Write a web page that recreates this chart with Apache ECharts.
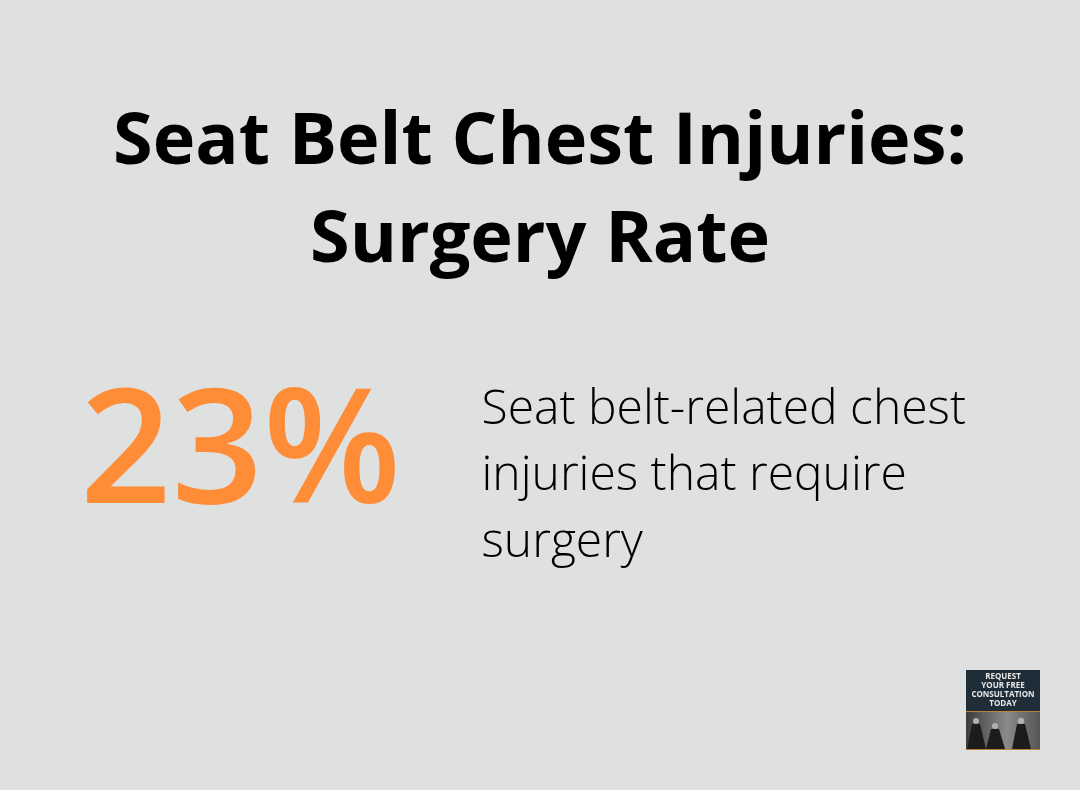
<!DOCTYPE html>
<html>
<head>
<meta charset="utf-8">
<style>html,body{margin:0;padding:0;background:#dfe1e0}#chart{width:1080px;height:790px}</style>
<script src="https://cdn.jsdelivr.net/npm/echarts@6/dist/echarts.min.js"></script>
</head>
<body>
<div id="chart"></div>
<script>
const titleLines = ['Seat Belt Chest Injuries:', 'Surgery Rate'];
const statValue = ['23%'];
const statLines = ['Seat belt-related chest', 'injuries that require', 'surgery'];
const badgeLines = ['REQUEST', 'YOUR FREE', 'CONSULTATION', 'TODAY'];

const font = '"Open Sans"';
const chart = echarts.init(document.getElementById('chart'), null, {renderer: 'canvas'});

const elements = [];
titleLines.forEach((t, i) => {
  elements.push({type: 'text', x: 540, y: 143 + i * 98.5, style: {text: t, font: `700 72px ${font}`, fill: '#000', align: 'center', verticalAlign: 'middle'}});
});
elements.push({type: 'text', x: 80, y: 457, style: {text: statValue[0], font: `600 160px ${font}`, fill: '#ff8c37', align: 'left', verticalAlign: 'middle'}});
statLines.forEach((t, i) => {
  elements.push({type: 'text', x: 481.5, y: 410 + i * 66.5, style: {text: t, font: `300 48px ${font}`, fill: '#000', align: 'left', verticalAlign: 'middle'}});
});

// badge in the corner
elements.push({type: 'rect', shape: {x: 966, y: 670, width: 74, height: 41}, style: {fill: '#1f2d38'}});
elements.push({type: 'rect', shape: {x: 966, y: 712, width: 74, height: 38}, style: {
  fill: new echarts.graphic.LinearGradient(0, 0, 1, 0, [
    {offset: 0, color: '#3c3c3c'}, {offset: 0.55, color: '#8a8a8a'}, {offset: 1, color: '#555'}
  ])
}});
elements.push({type: 'rect', shape: {x: 966, y: 711, width: 74, height: 1}, style: {fill: '#c0813a'}});
elements.push({type: 'rect', shape: {x: 966, y: 749, width: 74, height: 1}, style: {fill: '#c0813a'}});
badgeLines.forEach((t, i) => {
  elements.push({type: 'text', x: 1003, y: 677 + i * 9, style: {text: t, font: `700 8px ${font}`, fill: '#e8e8e8', align: 'center', verticalAlign: 'middle'}});
});
// the three people
[[976, 721, 3], [995, 726, 3], [1021, 721, 3.2]].forEach(p => {
  elements.push({type: 'circle', shape: {cx: p[0], cy: p[1], r: p[2]}, style: {fill: '#b5aeaa'}});
  elements.push({type: 'polygon', shape: {points: [[p[0] - 4, p[1] + 3], [p[0] + 4, p[1] + 3], [p[0] + 10, 749], [p[0] - 9, 749]]}, style: {fill: '#1c1c1c'}});
});

chart.setOption({
  backgroundColor: '#dfe1e0',
  animation: false,
  graphic: {elements: elements}
});
</script>
</body>
</html>
